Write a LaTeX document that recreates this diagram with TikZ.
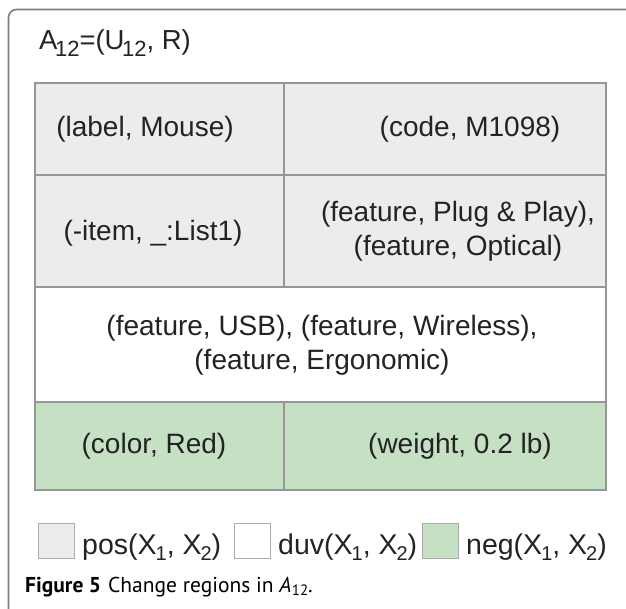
\documentclass[tikz,border=0pt]{standalone}
\usepackage{fontspec}
\setmainfont{Liberation Sans}
\newfontfamily\capfont{PT Sans}
\definecolor{cellgrey}{RGB}{236,236,236}
\definecolor{cellgreen}{RGB}{197,224,195}
\definecolor{rulegrey}{RGB}{150,150,150}
\definecolor{framegrey}{RGB}{125,125,125}
\definecolor{ink}{RGB}{35,35,35}
% lowered index digits for the heading and the key
\newcommand{\tsub}[1]{\kern-2.5pt\raisebox{-7pt}{\fontsize{22}{22}\selectfont #1}}
\newcommand{\lsub}[1]{\kern-1pt\raisebox{-6pt}{\fontsize{20}{20}\selectfont #1}}
\begin{document}
\begin{tikzpicture}[x=1pt,y=-1pt,
  cellbox/.style={draw=rulegrey, line width=1.3pt, anchor=north west,
    inner sep=0pt, outer sep=0pt},
  celltext/.style={font=\fontsize{28}{34}\selectfont, text=ink,
    inner sep=0pt, align=center},
  keybox/.style={draw=rulegrey!80, line width=1.1pt, anchor=north west,
    minimum width=36pt, minimum height=35pt, inner sep=0pt},
  keytext/.style={font=\fontsize{28.5}{32}\selectfont, text=ink,
    anchor=base west, inner sep=0pt}]
\useasboundingbox (0,0) rectangle (626,608);
\clip (0,0) rectangle (626,608);

% outer frame, open to the right and bottom
\draw[framegrey, line width=1.6pt, rounded corners=8pt]
  (8.5,650) -- (8.5,9.5) -- (680,9.5);

% heading
\node[font=\fontsize{27.5}{30}\selectfont, text=ink, anchor=base west,
  inner sep=0pt] (title) at (39,49) {A\tsub{12}=(U\tsub{12}, R)};

% table cells
\node[cellbox, fill=cellgrey, minimum width=249pt, minimum height=92pt]
  (c11) at (35,83) {};
\node[cellbox, fill=cellgrey, minimum width=322pt, minimum height=92pt]
  (c12) at (284,83) {};
\node[cellbox, fill=cellgrey, minimum width=249pt, minimum height=112pt]
  (c21) at (35,175) {};
\node[cellbox, fill=cellgrey, minimum width=322pt, minimum height=112pt]
  (c22) at (284,175) {};
\node[cellbox, fill=white, minimum width=571pt, minimum height=115pt]
  (c3) at (35,287) {};
\node[cellbox, fill=cellgreen, minimum width=249pt, minimum height=88pt]
  (c41) at (35,402) {};
\node[cellbox, fill=cellgreen, minimum width=322pt, minimum height=88pt]
  (c42) at (284,402) {};

% cell contents
\node[celltext] (t11) at (145,129) {(label, Mouse)};
\node[celltext] (t12) at (470,129) {(code, M1098)};
\node[celltext] (t21) at (153,233) {(-item, \_:List1)};
\node[celltext] (t22) at (458,231) {(feature, Plug \& Play),\\(feature, Optical)};
\node[celltext] (t3) at (322,345) {(feature, USB), (feature, Wireless),\\(feature, Ergonomic)};
\node[celltext] (t41) at (154,446) {(color, Red)};
\node[celltext] (t42) at (460,446) {(weight, 0.2 lb)};

% key
\node[keybox, fill=cellgrey] (k1) at (38,523) {};
\node[keytext] (k1t) at (82,554) {pos(X\lsub{1}, X\lsub{2})};
\node[keybox, fill=white] (k2) at (234,523) {};
\node[keytext] (k2t) at (278,554) {duv(X\lsub{1}, X\lsub{2})};
\node[keybox, fill=cellgreen] (k3) at (422,523) {};
\node[keytext] (k3t) at (466,554) {neg(X\lsub{1}, X\lsub{2})};

% caption
\node[font=\capfont\fontsize{21.5}{24}\selectfont, anchor=base west,
  inner sep=0pt] (cap) at (25,592)
  {\textbf{Figure 5}\hspace{7pt}Change regions in \textit{A}\kern0.5pt\raisebox{-3pt}{\fontsize{15}{15}\selectfont 12}.};
\end{tikzpicture}
\end{document}
